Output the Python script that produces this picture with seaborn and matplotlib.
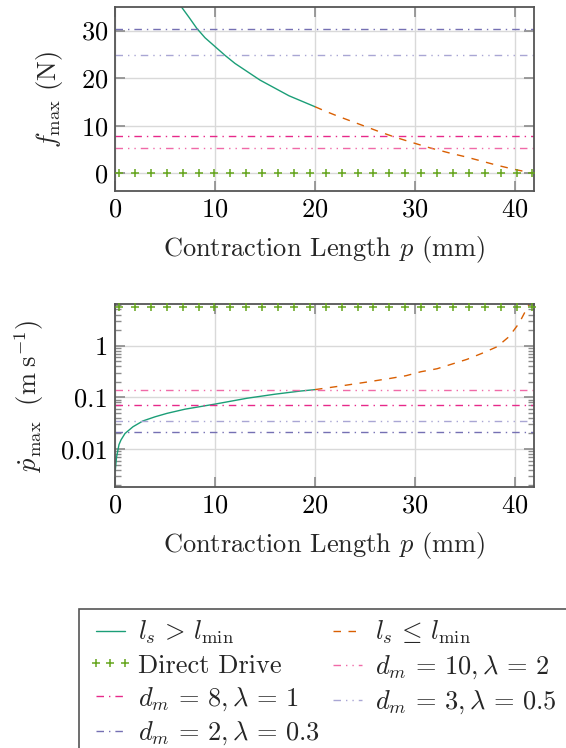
import matplotlib
matplotlib.use("Agg")
import matplotlib.pyplot as plt
import seaborn as sns
from matplotlib.lines import Line2D
from matplotlib.patches import Rectangle
from matplotlib.ticker import FixedLocator, FixedFormatter, LogLocator, NullFormatter

# ---------------------------------------------------------------------------
# Data
# ---------------------------------------------------------------------------
# force curve, l_s > l_min (solid) and l_s <= l_min (dashed)
p_force_solid = [6.3, 6.67, 7.4, 8.17, 9.0, 10.0, 11.0, 12.0, 14.5, 17.4, 20.0]
f_solid = [36.1, 34.9, 32.8, 30.5, 28.5, 26.65, 24.8, 23.1, 19.6, 16.3, 14.0]
p_force_dash = [20.0, 21.0, 22.0, 23.0, 24.6, 26.5, 28.0, 30.0, 31.5,
                33.5, 35.0, 36.7, 38.2, 39.7, 40.7, 41.6]
f_dash = [14.0, 13.1, 12.25, 11.45, 10.2, 8.7, 7.6, 6.3, 5.35,
          4.25, 3.5, 2.55, 1.7, 0.95, 0.5, 0.1]

# speed curve
p_speed_solid = [0.02, 0.15, 0.4, 0.6, 1.0, 1.8, 2.8, 4.0, 5.2, 7.0,
                 10.0, 13.2, 16.0, 18.5, 20.0]
v_solid = [0.0038, 0.0069, 0.0122, 0.015, 0.02, 0.027, 0.035, 0.042, 0.049,
           0.059, 0.074, 0.096, 0.115, 0.132, 0.141]
p_speed_dash = [20.0, 22.5, 25.0, 27.5, 29.1, 30.6, 32.2, 33.7, 35.2, 36.7,
                38.2, 39.4, 40.4, 41.2, 41.6]
v_dash = [0.141, 0.165, 0.195, 0.232, 0.262, 0.313, 0.357, 0.44, 0.543, 0.71,
          0.95, 1.49, 2.7, 5.3, 7.5]

# direct drive (constant), sampled at these contraction lengths
dd_p = [0.4, 2.0, 3.6, 5.2, 6.8, 8.4, 9.9, 11.5, 13.1, 14.7, 16.3, 17.9, 19.5,
        21.1, 22.7, 24.3, 25.8, 27.4, 29.0, 30.6, 32.2, 33.8, 35.4, 37.0,
        38.6, 40.2, 41.7]
dd_force = 0.15
dd_speed = 5.6

# gearbox / lever configurations
dm_labels = [r"$d_m\,=\,10, \lambda\,=\,2$", r"$d_m\,=\,8, \lambda\,=\,1$",
             r"$d_m\,=\,3, \lambda\,=\,0.5$", r"$d_m\,=\,2, \lambda\,=\,0.3$"]
dm_force = [5.4, 7.9, 24.8, 30.3]
dm_speed = [0.138, 0.070, 0.0348, 0.021]

x_ticks = [0, 10, 20, 30, 40]
f_ticks = [0, 10, 20, 30]
v_ticks = [0.01, 0.1, 1]
v_tick_labels = ["0.01", "0.1", "1"]

# ---------------------------------------------------------------------------
# Style
# ---------------------------------------------------------------------------
sns.set_theme(style="ticks")
plt.rcParams.update({
    "font.family": "cmr10",
    "mathtext.fontset": "cm",
    "axes.formatter.use_mathtext": True,
    "axes.unicode_minus": False,
})

C_SOLID = "#1b9e77"
C_DASH = "#d95f02"
C_DD = "#66a61e"
dm_colors = ["#f06aa8", "#e7298a", "#a9a6d4", "#7570b3"]
DASHDOT = (0, (5.4, 3.6, 1.0, 3.6))
DASHDOTDOT = (0, (5.4, 3.6, 1.0, 3.6, 1.0, 3.6))
dm_styles = [DASHDOTDOT, DASHDOT, DASHDOTDOT, DASHDOT]
DASHED = (0, (5.4, 5.4))
LW = 1.0
FS = 19

W, H = 566, 748
fig = plt.figure(figsize=(W / 100, H / 100), dpi=100)
ax1 = fig.add_axes([115 / W, 1 - 190.7 / H, 419 / W, 183.4 / H])
ax2 = fig.add_axes([115 / W, 1 - 487.3 / H, 419 / W, 183.0 / H])


def style_axis(ax):
    for s in ax.spines.values():
        s.set_color("#555555")
        s.set_linewidth(1.3)
    ax.grid(True, which="major", color="#d9d9d9", lw=1.0)
    ax.set_axisbelow(True)
    ax.tick_params(which="major", direction="in", top=True, right=True,
                   length=7.2, width=1.2, color="#8c8c8c", pad=5,
                   labelsize=FS, labelcolor="black")
    ax.tick_params(which="minor", direction="in", left=True, right=True,
                   length=4.5, width=1.0, color="#8c8c8c")
    ax.set_xlim(0, 41.9)
    ax.xaxis.set_major_locator(FixedLocator(x_ticks))
    ax.set_xlabel("Contraction Length $p$ (mm)", fontsize=FS, labelpad=9)


# ---------------------------------------------------------------------------
# Top: maximum force
# ---------------------------------------------------------------------------
sns.lineplot(x=p_force_solid, y=f_solid, ax=ax1, color=C_SOLID, lw=LW,
             estimator=None, sort=False)
sns.lineplot(x=p_force_dash, y=f_dash, ax=ax1, color=C_DASH, lw=LW,
             linestyle=DASHED, estimator=None, sort=False)
sns.scatterplot(x=dd_p, y=[dd_force] * len(dd_p), ax=ax1, marker="+",
                s=40, linewidth=1.1, color=C_DD, zorder=3)
for y, c, ls in zip(dm_force, dm_colors, dm_styles):
    ax1.axhline(y, color=c, lw=LW, linestyle=ls)
style_axis(ax1)
ax1.set_ylim(-3.65, 34.9)
ax1.yaxis.set_major_locator(FixedLocator(f_ticks))
ax1.set_ylabel(r"$f_{\max}$ (N)", fontsize=FS)
ax1.yaxis.set_label_coords(-0.12, 0.5)

# ---------------------------------------------------------------------------
# Bottom: maximum speed (log)
# ---------------------------------------------------------------------------
sns.lineplot(x=p_speed_solid, y=v_solid, ax=ax2, color=C_SOLID, lw=LW,
             estimator=None, sort=False)
sns.lineplot(x=p_speed_dash, y=v_dash, ax=ax2, color=C_DASH, lw=LW,
             linestyle=DASHED, estimator=None, sort=False)
sns.scatterplot(x=dd_p, y=[dd_speed] * len(dd_p), ax=ax2, marker="+",
                s=40, linewidth=1.1, color=C_DD, zorder=3, clip_on=False)
for y, c, ls in zip(dm_speed, dm_colors, dm_styles):
    ax2.axhline(y, color=c, lw=LW, linestyle=ls)
ax2.set_yscale("log")
style_axis(ax2)
ax2.set_ylim(0.00182, 6.3)
ax2.yaxis.set_major_locator(FixedLocator(v_ticks))
ax2.yaxis.set_major_formatter(FixedFormatter(v_tick_labels))
ax2.yaxis.set_minor_locator(LogLocator(base=10, subs=range(2, 10), numticks=20))
ax2.yaxis.set_minor_formatter(NullFormatter())
ax2.set_ylabel(r"$\dot{p}_{\max}\ \ (\mathrm{m}\;\mathrm{s}^{-1})$", fontsize=FS)
ax2.yaxis.set_label_coords(-0.165, 0.5)

# ---------------------------------------------------------------------------
# Legend (frame runs off the page, as in the original)
# ---------------------------------------------------------------------------
h_solid = Line2D([], [], color=C_SOLID, lw=LW)
h_dash = Line2D([], [], color=C_DASH, lw=LW, linestyle=DASHED)
h_dd = Line2D([], [], color=C_DD, ls="none", marker="+", ms=6, mew=1.1)
h_dm = [Line2D([], [], color=c, lw=LW, linestyle=ls)
        for c, ls in zip(dm_colors, dm_styles)]
handles = [h_solid, h_dd, h_dm[1], h_dm[3], h_dash, h_dm[0], h_dm[2]]
labels = [r"$l_s\,>\,l_{\min}$", "Direct Drive", dm_labels[1], dm_labels[3],
          r"$l_s\,\leq\,l_{\min}$", dm_labels[0], dm_labels[2]]
fig.legend(handles, labels, loc="upper left",
           bbox_to_anchor=(88 / W, 1 - 619 / H), ncol=2, fontsize=FS,
           handlelength=1.7, handletextpad=0.2, columnspacing=0.18,
           labelspacing=0.28, borderpad=0, borderaxespad=0, frameon=False,
           numpoints=3)
fig.patches.append(Rectangle((79 / W, -0.1), 1.0, 0.1 + (1 - 609 / H),
                             transform=fig.transFigure, fill=False,
                             ec="#555555", lw=1.2))

fig.savefig("out.png", dpi=100)
